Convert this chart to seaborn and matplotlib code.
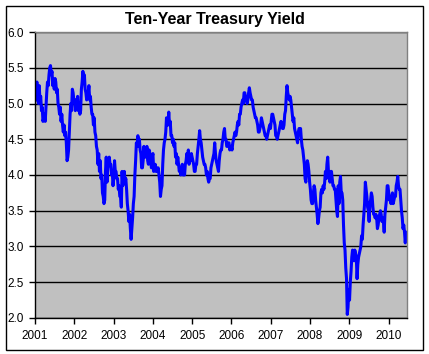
import numpy as np
import pandas as pd
import seaborn as sns
import matplotlib.pyplot as plt
import matplotlib.dates as mdates
from matplotlib.patches import Rectangle

# =============================================================================
# Data: weekly ten-year treasury yield (%)
# =============================================================================
start_date = "2001-01-05"

y2001 = [5.05, 5.25, 5.30, 5.15, 5.00, 5.25, 5.05, 5.10, 4.90,
         4.95, 4.75, 4.80, 4.85, 4.75, 4.95, 5.15, 5.30, 5.25,
         5.40, 5.50, 5.53, 5.40, 5.45, 5.25, 5.30, 5.20, 5.35,
         5.30, 5.15, 5.20, 5.00, 4.95, 4.85, 4.95, 4.75,
         4.85, 4.70, 4.60, 4.70, 4.55, 4.60, 4.45, 4.20, 4.25,
         4.35, 4.60, 4.85, 5.00, 4.90, 5.20, 5.15, 5.05]
y2002 = [5.05, 4.90, 5.05, 4.95, 5.10, 4.90, 4.95, 4.85, 4.90,
         5.20, 5.30, 5.45, 5.35, 5.40, 5.20, 5.15, 5.05,
         5.10, 5.15, 5.25, 5.05, 5.10, 4.95, 4.85, 4.85, 4.70,
         4.80, 4.60, 4.55, 4.40, 4.35, 4.15, 4.30, 4.05, 4.20,
         3.95, 4.00, 3.75, 3.70, 3.60, 3.65, 4.05, 4.25,
         3.90, 4.10, 4.15, 4.25, 4.15, 4.15, 4.00, 4.05, 3.85]
y2003 = [3.95, 4.20, 4.05, 4.05, 3.95, 3.95, 3.80, 3.85, 3.70,
         3.70, 3.55, 4.05, 3.85, 3.95, 4.05, 3.90, 3.95,
         3.80, 3.60, 3.50, 3.35, 3.45, 3.25, 3.10, 3.25, 3.40,
         3.60, 3.70, 4.00, 4.20, 4.45, 4.40, 4.55, 4.40, 4.50,
         4.35, 4.30, 4.10, 4.10, 4.20, 4.40, 4.25, 4.25, 4.30,
         4.40, 4.20, 4.15, 4.35, 4.30, 4.20, 4.10, 4.25]
y2004 = [4.30, 4.05, 4.10, 4.15, 4.05, 4.10, 4.05, 4.10, 4.00,
         3.90, 3.70, 3.80, 3.85, 4.15, 4.35, 4.45, 4.50,
         4.60, 4.80, 4.70, 4.70, 4.88, 4.70, 4.75, 4.55, 4.55,
         4.45, 4.50, 4.40, 4.45, 4.25, 4.30, 4.15, 4.25,
         4.15, 4.05, 4.10, 4.00, 4.10, 4.15, 4.00, 4.05, 4.00,
         4.15, 4.20, 4.30, 4.20, 4.35, 4.15, 4.25, 4.20, 4.30]
y2005 = [4.25, 4.20, 4.15, 4.05, 4.05, 4.15, 4.15, 4.30,
         4.40, 4.50, 4.62, 4.50, 4.45, 4.35, 4.25, 4.20, 4.15,
         4.15, 4.10, 4.00, 4.05, 3.95, 3.90, 3.95, 3.95,
         4.10, 4.15, 4.20, 4.25, 4.30, 4.45, 4.30, 4.20, 4.15,
         4.10, 4.05, 4.20, 4.30, 4.35, 4.35, 4.45, 4.50, 4.60,
         4.65, 4.50, 4.50, 4.40, 4.40, 4.45, 4.45, 4.35, 4.40]
y2006 = [4.40, 4.35, 4.45, 4.50, 4.55, 4.60, 4.55, 4.60,
         4.70, 4.75, 4.70, 4.85, 4.85, 4.95, 5.00, 5.05, 5.00,
         5.15, 5.15, 5.05, 5.10, 5.00, 5.05, 5.15, 5.22, 5.15,
         5.10, 5.05, 5.05, 4.95, 4.90, 4.85, 4.80, 4.80,
         4.75, 4.70, 4.60, 4.60, 4.65, 4.70, 4.80, 4.75, 4.70,
         4.65, 4.60, 4.55, 4.55, 4.50, 4.55, 4.60, 4.65, 4.70]
y2007 = [4.65, 4.75, 4.85, 4.85, 4.80, 4.75, 4.70, 4.55,
         4.55, 4.50, 4.55, 4.60, 4.65, 4.70, 4.75, 4.70, 4.65,
         4.65, 4.70, 4.85, 4.90, 5.10, 5.25, 5.15, 5.10, 5.05,
         5.10, 5.05, 4.95, 4.85, 4.75, 4.80, 4.65, 4.60, 4.55,
         4.50, 4.45, 4.60, 4.65, 4.65, 4.65, 4.50, 4.40,
         4.35, 4.25, 4.15, 3.95, 3.90, 4.10, 4.20, 4.15, 4.05]
y2008 = [3.90, 3.80, 3.65, 3.60, 3.60, 3.75, 3.85, 3.80, 3.65,
         3.55, 3.45, 3.32, 3.40, 3.50, 3.55, 3.75, 3.80,
         3.75, 3.85, 3.80, 3.90, 4.05, 3.95, 4.15, 4.25, 4.05,
         3.95, 3.90, 4.05, 4.05, 3.95, 3.85, 3.85, 3.80, 3.80,
         3.65, 3.50, 3.42, 3.85, 3.60, 3.90, 3.98, 3.75,
         3.75, 3.65, 3.30, 3.05, 2.95, 2.70, 2.55, 2.05, 2.15]
y2009 = [2.40, 2.25, 2.50, 2.65, 2.85, 2.95, 2.85, 2.80, 2.95,
         2.90, 2.85, 2.55, 2.75, 2.85, 2.90, 2.95, 3.00,
         3.15, 3.10, 3.30, 3.45, 3.60, 3.90, 3.80, 3.70, 3.55,
         3.50, 3.35, 3.60, 3.65, 3.75, 3.70, 3.55, 3.45, 3.45,
         3.40, 3.45, 3.40, 3.25, 3.30, 3.40, 3.45, 3.50, 3.45,
         3.35, 3.40, 3.35, 3.20, 3.45, 3.55, 3.65, 3.85]
y2010 = [3.85, 3.75, 3.65, 3.65, 3.60, 3.70, 3.75, 3.60,
         3.65, 3.70, 3.70, 3.85, 3.90, 3.98, 3.85, 3.80, 3.80,
         3.65, 3.50, 3.40, 3.25, 3.30, 3.20, 3.05, 3.20]

yields = y2001 + y2002 + y2003 + y2004 + y2005 + y2006 + y2007 + y2008 + y2009 + y2010
dates = pd.date_range(start_date, periods=len(yields), freq="W-FRI")

df = pd.DataFrame({"Date": dates, "Yield": yields})

year_ticks = [str(y) for y in range(2001, 2011)]
y_ticks = [2.0, 2.5, 3.0, 3.5, 4.0, 4.5, 5.0, 5.5, 6.0]

# =============================================================================
# Plot
# =============================================================================
plt.rcParams["font.family"] = ["Liberation Sans", "DejaVu Sans"]

fig = plt.figure(figsize=(4.29, 3.54), dpi=100)
ax = fig.add_axes([0.0816, 0.1017, 0.8671, 0.8079])
ax.set_facecolor("#C0C0C0")

sns.lineplot(data=df, x="Date", y="Yield", color="#0000FF", linewidth=2.2, ax=ax)

ax.set_ylim(2.0, 6.0)
ax.set_yticks(y_ticks)
ax.set_yticklabels([f"{v:.1f}" for v in y_ticks])
ax.set_xlim(pd.Timestamp("2001-01-01"), pd.Timestamp("2010-06-20"))
ax.set_xticks([pd.Timestamp(f"{y}-01-01") for y in year_ticks])
ax.set_xticklabels(year_ticks)

ax.grid(axis="y", color="black", linewidth=1.0)
ax.grid(axis="x", visible=False)
ax.set_axisbelow(True)

for side in ["left", "bottom"]:
    ax.spines[side].set_color("black")
    ax.spines[side].set_linewidth(1.0)
for side in ["top", "right"]:
    ax.spines[side].set_color("#808080")
    ax.spines[side].set_linewidth(1.0)

ax.tick_params(axis="both", direction="out", length=4, width=1, colors="black",
               labelsize=8.5)
ax.tick_params(axis="x", pad=5)
ax.tick_params(axis="y", pad=4)
ax.set_xlabel("")
ax.set_ylabel("")

fig.text(0.5, 0.946, "Ten-Year Treasury Yield", ha="center", va="center",
         fontsize=11.5, fontweight="bold")

# chart border
fig.patches.append(Rectangle((5.5 / 429, 1 - 349.5 / 354), 417 / 429, 344 / 354,
                             transform=fig.transFigure, fill=False,
                             edgecolor="black", linewidth=1.0))

fig.savefig("out.png", dpi=100)
